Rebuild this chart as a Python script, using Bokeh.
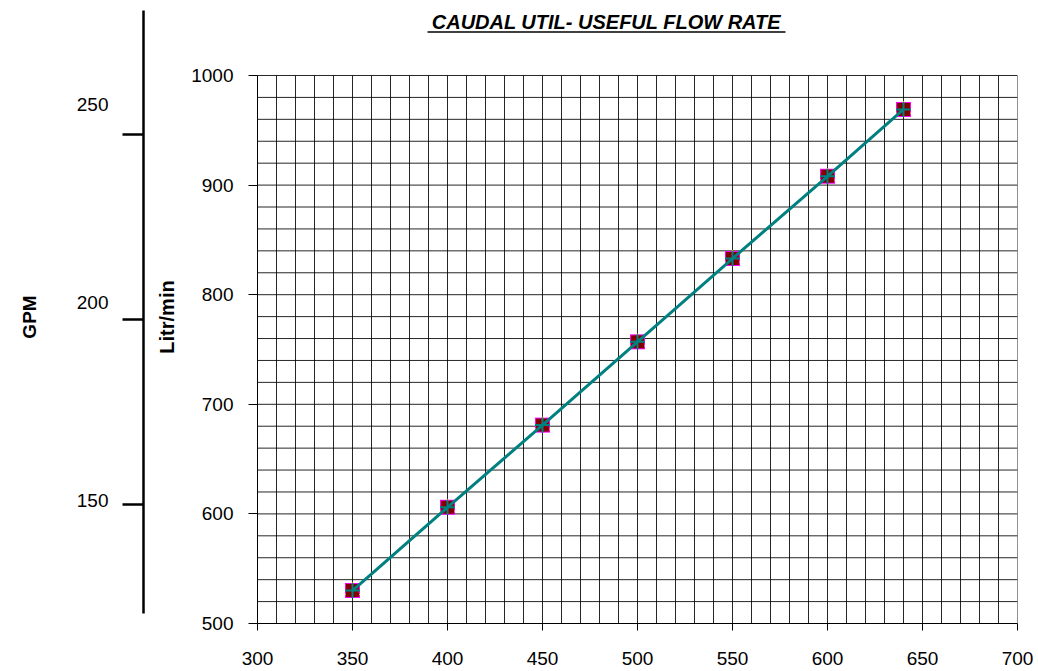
from bokeh.plotting import figure
from bokeh.layouts import row
from bokeh.models import Range1d, FixedTicker, Label, ColumnDataSource, LinearAxis
from bokeh.embed import file_html
from bokeh.resources import INLINE

# ---- data ----
rpm = [350, 400, 450, 500, 550, 600, 640]
flow_lpm = [530, 606, 681, 757, 833, 908, 969]

x_ticks = [300, 350, 400, 450, 500, 550, 600, 650, 700]
y_ticks = [500, 600, 700, 800, 900, 1000]
gpm_ticks = [150, 200, 250]

x_grid = list(range(300, 701, 10))
y_grid = list(range(500, 1001, 20))

title_text = "CAUDAL UTIL- USEFUL FLOW RATE"
FONT = "Liberation Sans"

H = 669
TOP = 10
BOTTOM = 46

# ---- GPM axis (separate narrow figure) ----
pg = figure(width=148, height=H, x_range=Range1d(0, 1),
            y_range=Range1d(117.84, 283.5), title=None,
            toolbar_location=None, output_backend="svg",
            min_border_left=143, min_border_right=0,
            min_border_top=TOP, min_border_bottom=BOTTOM,
            x_axis_location=None)
pg.extra_y_ranges = {"lab": Range1d(118.94, 273.74)}
pg.outline_line_color = None
pg.grid.visible = False
pg.scatter([0.5], [200], size=0, alpha=0)

# axis line and ticks (ticks drawn as unlabeled minor ticks)
ya = pg.yaxis[0]
ya.ticker = FixedTicker(ticks=[], minor_ticks=gpm_ticks)
ya.bounds = (120.54, 283.5)
ya.minor_tick_out = 21
ya.minor_tick_in = 0
ya.minor_tick_line_width = 2.5
ya.minor_tick_line_color = "black"
ya.major_tick_line_color = None
ya.axis_line_width = 2.5
ya.axis_line_color = "black"
ya.major_label_standoff = 0

# tick labels (placed slightly off the ticks, as in the original)
yl = LinearAxis(y_range_name="lab")
yl.ticker = FixedTicker(ticks=gpm_ticks)
yl.axis_line_color = None
yl.major_tick_line_color = None
yl.minor_tick_line_color = None
yl.major_tick_out = 0
yl.major_tick_in = 0
yl.major_label_text_font = FONT
yl.major_label_text_font_size = "19px"
yl.major_label_text_color = "black"
yl.major_label_standoff = 14
yl.axis_label = "GPM"
yl.axis_label_text_font = FONT
yl.axis_label_text_font_style = "bold"
yl.axis_label_text_font_size = "19px"
yl.axis_label_text_color = "black"
yl.axis_label_standoff = 34
pg.add_layout(yl, "left")

# ---- main figure ----
p = figure(width=888, height=H, x_range=Range1d(300, 700),
           y_range=Range1d(500, 1059.3), title=None,
           toolbar_location=None, output_backend="svg",
           min_border_left=109, min_border_right=19,
           min_border_top=TOP, min_border_bottom=BOTTOM)
p.outline_line_color = None
p.grid.visible = False

# grid
p.segment(x0=x_grid, y0=[500] * len(x_grid), x1=x_grid, y1=[1000] * len(x_grid),
          line_color="black", line_width=1, line_alpha=0.85)
p.segment(x0=[300] * len(y_grid), y0=y_grid, x1=[700] * len(y_grid), y1=y_grid,
          line_color="black", line_width=1, line_alpha=0.85)

xa = p.xaxis[0]
xa.ticker = FixedTicker(ticks=x_ticks)
xa.bounds = (300, 700)
xa.minor_tick_line_color = None
xa.major_tick_out = 7
xa.major_tick_in = 0
xa.axis_line_color = "black"
xa.major_tick_line_color = "black"
xa.major_label_text_font = FONT
xa.major_label_text_font_size = "19px"
xa.major_label_text_color = "black"
xa.major_label_standoff = 21

la = p.yaxis[0]
la.ticker = FixedTicker(ticks=y_ticks)
la.bounds = (500, 1000)
la.minor_tick_line_color = None
la.major_tick_out = 9
la.major_tick_in = 0
la.axis_line_color = "black"
la.major_tick_line_color = "black"
la.major_label_text_font = FONT
la.major_label_text_font_size = "19px"
la.major_label_text_color = "black"
la.major_label_standoff = 15
la.axis_label = "Litr/min"
la.axis_label_text_font = FONT
la.axis_label_text_font_style = "bold"
la.axis_label_text_font_size = "20px"
la.axis_label_text_color = "black"
la.axis_label_standoff = 10

# data series
src = ColumnDataSource(dict(x=rpm, y=flow_lpm))
p.scatter("x", "y", source=src, marker="square", size=15,
          fill_color="#FF00FF", line_color=None)
p.scatter("x", "y", source=src, marker="triangle", size=15,
          fill_color="#FFCC00", line_color=None)
p.scatter("x", "y", source=src, marker="square", size=13,
          fill_color="#800000", line_color=None)
p.line("x", "y", source=src, line_color="#008080", line_width=3)
p.scatter("x", "y", source=src, marker="cross", size=15,
          line_color="#008080", line_width=2)

# title with underline
p.add_layout(Label(x=483.7, y=1048.8, text=title_text, text_align="center",
                   text_baseline="middle", text_font=FONT,
                   text_font_size="20px", text_font_style="bold italic",
                   text_color="black"))
p.segment(x0=[389.5], y0=[1039.7], x1=[577.9], y1=[1039.7],
          line_color="black", line_width=1.5)

layout = row(pg, p)
open("out.html", "w").write(file_html(layout, INLINE))
